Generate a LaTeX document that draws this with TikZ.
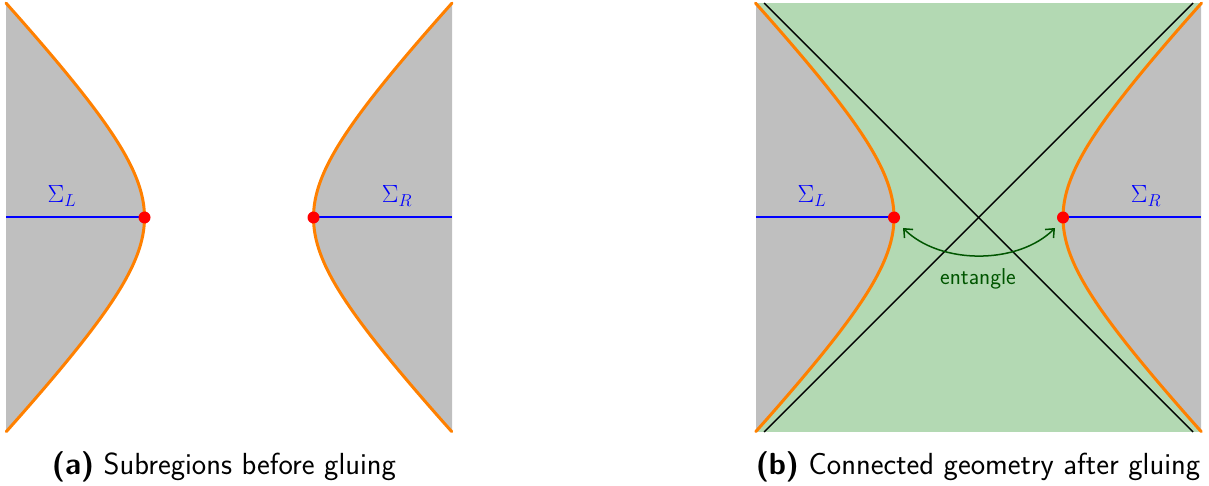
\documentclass[tikz,border=0pt]{standalone}
\usetikzlibrary{arrows.meta}
\definecolor{regiongray}{RGB}{191,191,191}
\definecolor{glue}{RGB}{179,217,179}
\definecolor{hyporange}{RGB}{255,128,0}
\definecolor{darkgreen}{RGB}{0,85,0}
\definecolor{sliceblue}{RGB}{0,0,255}
\tikzset{
  region/.style={fill=regiongray},
  horizon/.style={draw=hyporange, line width=3pt, line cap=round},
  sigmacut/.style={sliceblue, line width=2pt},
  asym/.style={draw=black, line width=1.4pt},
  dot/.style={circle, fill=red, inner sep=0pt, minimum size=12pt},
  sigma/.style={text=blue, font=\fontsize{24}{28}\selectfont},
  caption/.style={font=\sffamily\fontsize{30.5}{36}\selectfont},
  entarrow/.style={draw=darkgreen, line width=1.5pt, {Straight Barb[length=7pt,width=12pt]}-{Straight Barb[length=7pt,width=12pt]}},
}
\begin{document}
\begin{tikzpicture}[x=1pt,y=-1pt]
\useasboundingbox (0,0) rectangle (1209,486);
\def\A{84.5}\def\B{87.8}\def\T{1.6255}
% ---------- panel (a) ----------
\fill[region] (6,3) -- plot[domain=-\T:\T, samples=90, variable=\t] ({229-\A*cosh(\t)},{217.5+\B*sinh(\t)}) -- (6,432) -- cycle;
\fill[region] (452,3) -- plot[domain=-\T:\T, samples=90, variable=\t] ({229+\A*cosh(\t)},{217.5+\B*sinh(\t)}) -- (452,432) -- cycle;
\coordinate (aL) at (6,217.5);
\coordinate (aR) at (452,217.5);
\coordinate (pLa) at (144.5,217.5);
\coordinate (pRa) at (313.5,217.5);
\draw[sigmacut] (aL) -- (pLa);
\draw[sigmacut] (pRa) -- (aR);
\draw[horizon] plot[domain=-\T:\T, samples=90, variable=\t] ({229-\A*cosh(\t)},{217.5+\B*sinh(\t)});
\draw[horizon] plot[domain=-\T:\T, samples=90, variable=\t] ({229+\A*cosh(\t)},{217.5+\B*sinh(\t)});
\node[dot] (dLa) at (pLa) {};
\node[dot] (dRa) at (pRa) {};
\node[sigma] (sLa) at (62,196) {$\Sigma_L$};
\node[sigma] (sRa) at (397,196) {$\Sigma_R$};
\node[caption] (capA) at (224,467) {\textbf{(a)} Subregions before gluing};
% ---------- panel (b) ----------
\fill[glue] (756,3) rectangle (1201,432);
\fill[region] (756,3) -- plot[domain=-\T:\T, samples=90, variable=\t] ({978.5-\A*cosh(\t)},{217.5+\B*sinh(\t)}) -- (756,432) -- cycle;
\fill[region] (1201,3) -- plot[domain=-\T:\T, samples=90, variable=\t] ({978.5+\A*cosh(\t)},{217.5+\B*sinh(\t)}) -- (1201,432) -- cycle;
\coordinate (d1) at (764,3);
\coordinate (d2) at (1193,432);
\coordinate (d3) at (1193,3);
\coordinate (d4) at (764,432);
\draw[asym] (d1) -- (d2);
\draw[asym] (d3) -- (d4);
\coordinate (bL) at (756,217.5);
\coordinate (bR) at (1201,217.5);
\coordinate (pLb) at (894,217.5);
\coordinate (pRb) at (1063,217.5);
\draw[sigmacut] (bL) -- (pLb);
\draw[sigmacut] (pRb) -- (bR);
\draw[horizon] plot[domain=-\T:\T, samples=90, variable=\t] ({978.5-\A*cosh(\t)},{217.5+\B*sinh(\t)});
\draw[horizon] plot[domain=-\T:\T, samples=90, variable=\t] ({978.5+\A*cosh(\t)},{217.5+\B*sinh(\t)});
\node[dot] (dLb) at (pLb) {};
\node[dot] (dRb) at (pRb) {};
\node[sigma] (sLb) at (812,196) {$\Sigma_L$};
\node[sigma] (sRb) at (1146,196) {$\Sigma_R$};
\coordinate (eL) at (903,228);
\coordinate (eR) at (1055,228);
\draw[entarrow] (eL) .. controls (940,265) and (1018,265) .. (eR);
\node[text=darkgreen, font=\sffamily\fontsize{23}{27}\selectfont] (ent) at (978,279) {entangle};
\node[caption] (capB) at (978,467) {\textbf{(b)} Connected geometry after gluing};
\end{tikzpicture}
\end{document}
